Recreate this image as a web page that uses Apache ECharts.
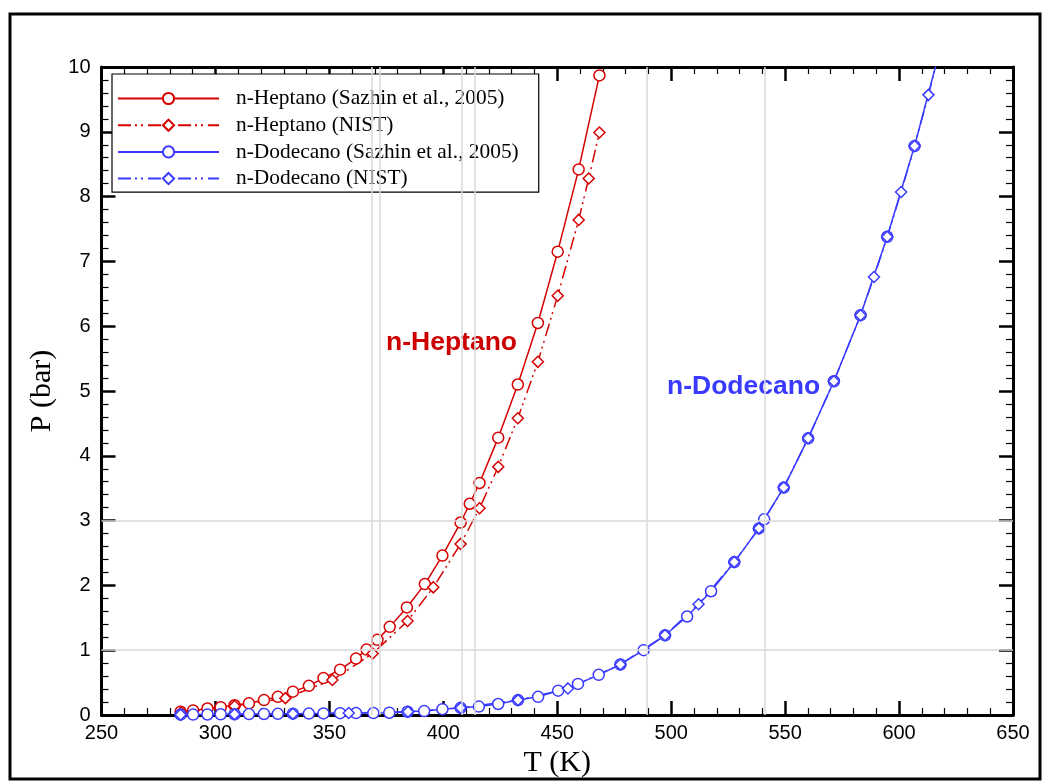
<!DOCTYPE html>
<html>
<head>
<meta charset="utf-8">
<script src="https://cdn.jsdelivr.net/npm/echarts@6/dist/echarts.min.js"></script>
<style>
    html, body { margin: 0; padding: 0; background: #fff; }
    #chart { width: 1050px; height: 783px; }
</style>
</head>
<body>
<div id="chart"></div>
<script>
// n-Heptano, Sazhin et al. 2005
const hepSazT = [284.7, 290.2, 296.5, 302.3, 308.4, 314.7, 321.3, 327.4, 334.0, 341.0, 347.4, 354.7, 361.7, 366.3, 371.1, 376.5, 384.0, 391.9, 399.6, 407.6, 411.6, 415.9, 424.1, 432.7, 441.5, 450.2, 459.4, 468.5];
const hepSazP = [0.05, 0.07, 0.10, 0.12, 0.15, 0.18, 0.23, 0.28, 0.36, 0.45, 0.57, 0.70, 0.87, 1.01, 1.16, 1.36, 1.66, 2.02, 2.46, 2.97, 3.26, 3.58, 4.28, 5.10, 6.05, 7.15, 8.42, 9.87];
// n-Heptano, NIST
const hepNistT = [285.0, 308.4, 330.7, 351.3, 369.0, 384.3, 395.6, 407.6, 415.9, 424.1, 432.7, 441.5, 450.2, 459.4, 463.8, 468.5];
const hepNistP = [0.04, 0.14, 0.26, 0.54, 0.95, 1.45, 1.97, 2.64, 3.19, 3.83, 4.58, 5.45, 6.47, 7.64, 8.28, 8.99];
// n-Dodecano, Sazhin et al. 2005
const dodSazT = [284.7, 290.2, 296.5, 302.3, 308.4, 314.7, 321.3, 327.4, 334.0, 341.0, 347.4, 354.7, 361.7, 369.3, 376.3, 384.3, 391.6, 399.6, 407.6, 415.6, 424.1, 432.8, 441.6, 450.4, 459.1, 468.2, 477.7, 487.9, 497.3, 507.0, 517.5, 527.7, 538.5, 540.8, 549.4, 560.1, 571.4, 583.1, 594.8, 606.8, 618.8];
const dodSazP = [0.005, 0.007, 0.008, 0.010, 0.012, 0.014, 0.016, 0.018, 0.02, 0.022, 0.025, 0.028, 0.03, 0.03, 0.035, 0.05, 0.06, 0.09, 0.11, 0.13, 0.17, 0.23, 0.28, 0.375, 0.48, 0.62, 0.78, 1.0, 1.23, 1.52, 1.91, 2.36, 2.88, 3.02, 3.51, 4.27, 5.15, 6.17, 7.38, 8.78, 10.38];
// n-Dodecano, NIST
const dodNistT = [284.7, 308.4, 334.0, 358.5, 384.5, 407.6, 432.8, 454.7, 477.7, 497.3, 512.0, 527.7, 538.5, 549.4, 560.1, 571.4, 583.1, 589.0, 594.8, 600.9, 606.8, 612.9, 618.9];
const dodNistP = [0.005, 0.012, 0.02, 0.03, 0.05, 0.11, 0.23, 0.41, 0.78, 1.23, 1.71, 2.36, 2.88, 3.51, 4.27, 5.15, 6.17, 6.76, 7.38, 8.07, 8.78, 9.57, 10.4];

// reference lines (boiling T at 1 and 3 bar)
const gridT = [368.6, 372.1, 407.9, 414.0, 489.3, 540.9];
const gridP = [1, 3];

const names = ['n-Heptano (Sazhin et al., 2005)', 'n-Heptano (NIST)', 'n-Dodecano (Sazhin et al., 2005)', 'n-Dodecano (NIST)'];

const RED = '#d60000';
const BLUE = '#3a3aff';
const dashDot = [13, 4, 2, 4, 2, 5];
const serif = 'Liberation Serif, Times New Roman, serif';

const zip = (xs, ys) => xs.map((x, i) => [x, ys[i]]);

function curve(name, xs, ys, color, symbol, dashed) {
    return {
        name: name,
        type: 'line',
        data: zip(xs, ys),
        symbol: symbol,
        symbolSize: 11,
        showAllSymbol: true,
        clip: true,
        lineStyle: { color: color, width: 1.5, type: dashed ? dashDot : 'solid' },
        itemStyle: { color: '#fff', borderColor: color, borderWidth: 1.5 },
        emphasis: { disabled: true },
        z: 3
    };
}

const axisLine = { show: true, onZero: false, lineStyle: { color: '#000', width: 3 } };
const axisTick = { show: true, inside: true, length: 14, lineStyle: { color: '#000', width: 2.5 } };
const minorTick = { show: true, splitNumber: 5, length: 7, lineStyle: { color: '#000', width: 1.2 } };
const tickFont = { color: '#000', fontSize: 20, fontFamily: 'Liberation Sans, Arial, sans-serif' };

const chart = echarts.init(document.getElementById('chart'));
chart.setOption({
    animation: false,
    backgroundColor: '#fff',
    grid: { left: 101.5, right: 37, top: 67, bottom: 68 },
    legend: {
        data: names,
        orient: 'vertical',
        left: 112,
        top: 74,
        itemWidth: 101,
        itemHeight: 14,
        itemGap: 5.7,
        padding: [14, 20, 3, 5],
        backgroundColor: '#fff',
        borderColor: '#000',
        borderWidth: 1.2,
        borderRadius: 0,
        selectedMode: false,
        textStyle: {
            color: '#000', fontSize: 21.4, lineHeight: 21,
            fontFamily: serif,
            padding: [0, 0, 0, 12]
        }
    },
    xAxis: [{
        type: 'value', min: 250, max: 650, interval: 50,
        name: 'T (K)', nameLocation: 'middle', nameGap: 24,
        nameTextStyle: { color: '#000', fontSize: 30, fontFamily: serif },
        axisLine: axisLine, axisTick: axisTick, minorTick: minorTick,
        axisLabel: Object.assign({ margin: 8 }, tickFont),
        splitLine: { show: false }
    }, {
        type: 'value', min: 250, max: 650, interval: 50, position: 'top',
        axisLine: axisLine, axisTick: axisTick, minorTick: minorTick,
        axisLabel: { show: false }, splitLine: { show: false }
    }],
    yAxis: [{
        type: 'value', min: 0, max: 10, interval: 1,
        name: 'P (bar)', nameLocation: 'middle', nameGap: 43, nameRotate: 90,
        nameTextStyle: { color: '#000', fontSize: 30, fontFamily: serif },
        axisLine: axisLine, axisTick: axisTick, minorTick: minorTick,
        axisLabel: Object.assign({ margin: 11 }, tickFont),
        splitLine: { show: false }
    }, {
        type: 'value', min: 0, max: 10, interval: 1, position: 'right',
        axisLine: axisLine, axisTick: axisTick, minorTick: minorTick,
        axisLabel: { show: false }, splitLine: { show: false }
    }],
    series: [
        {
            name: 'ref',
            type: 'line',
            data: [],
            silent: true,
            z: 1,
            markLine: {
                silent: true,
                symbol: 'none',
                animation: false,
                label: { show: false },
                lineStyle: { color: '#d9d9d9', width: 1.5, type: 'solid' },
                data: gridT.map(t => ({ xAxis: t })).concat(gridP.map(p => ({ yAxis: p })))
            }
        },
        curve(names[0], hepSazT, hepSazP, RED, 'circle', false),
        curve(names[1], hepNistT, hepNistP, RED, 'diamond', true),
        curve(names[2], dodSazT, dodSazP, BLUE, 'circle', false),
        curve(names[3], dodNistT, dodNistP, BLUE, 'diamond', true)
    ],
    graphic: [
        {
            type: 'rect', silent: true, z: 0,
            shape: { x: 10, y: 14, width: 1030, height: 765 },
            style: { fill: 'none', stroke: '#000', lineWidth: 3 }
        },
        {
            type: 'text', left: 386, top: 329, silent: true,
            style: { text: 'n-Heptano', fill: '#cc0000', font: 'bold 26.5px Liberation Sans, Arial, sans-serif' }
        },
        {
            type: 'text', left: 667, top: 373, silent: true,
            style: { text: 'n-Dodecano', fill: BLUE, font: 'bold 26.5px Liberation Sans, Arial, sans-serif' }
        }
    ]
});
</script>
</body>
</html>
